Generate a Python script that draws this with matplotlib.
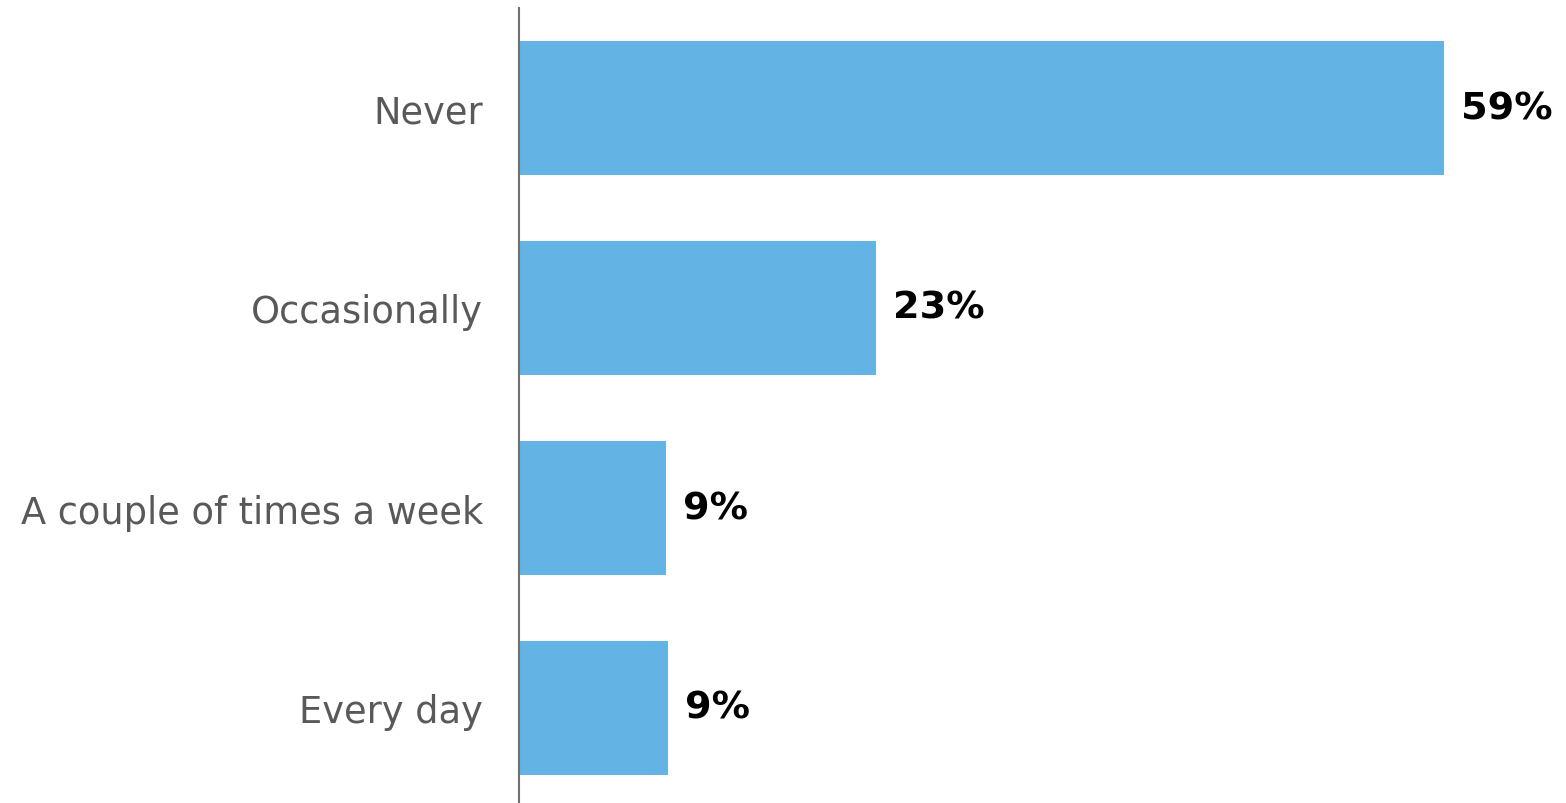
import matplotlib
matplotlib.use("Agg")
import matplotlib.pyplot as plt

plt.rcParams["font.family"] = ["DejaVu Sans"]

categories = ["Never", "Occasionally", "A couple of times a week", "Every day"]
values = [59.0, 22.8, 9.4, 9.5]
value_labels = ["59%", "23%", "9%", "9%"]

BAR_COLOR = "#63B4E4"
LABEL_COLOR = "#595959"

fig = plt.figure(figsize=(15.66, 8.04), dpi=100)
# axes: left spine at x=519px, top at y=9px
ax = fig.add_axes([519 / 1566, -5 / 804, 1 - 519 / 1566, 800 / 804])

ypos = list(range(len(categories)))[::-1]
ax.barh(ypos, values, height=0.667, color=BAR_COLOR)

for y, v, lab in zip(ypos, values, value_labels):
    ax.annotate(lab, (v, y), xytext=(12, 0), textcoords="offset points",
                va="center", ha="left", fontsize=27.5, fontweight="bold", color="black")

ax.set_yticks(ypos)
ax.set_yticklabels(categories, fontsize=26.5, color=LABEL_COLOR)
ax.tick_params(axis="y", length=0, pad=26)
ax.set_xticks([])
ax.set_xlim(0, (1566 - 519) / (925 / 59))
ax.set_ylim(-0.5, 3.5)

for s in ["top", "right", "bottom"]:
    ax.spines[s].set_visible(False)
ax.spines["left"].set_color("#707070")
ax.spines["left"].set_linewidth(1.5)

fig.savefig("out.png", dpi=100)
